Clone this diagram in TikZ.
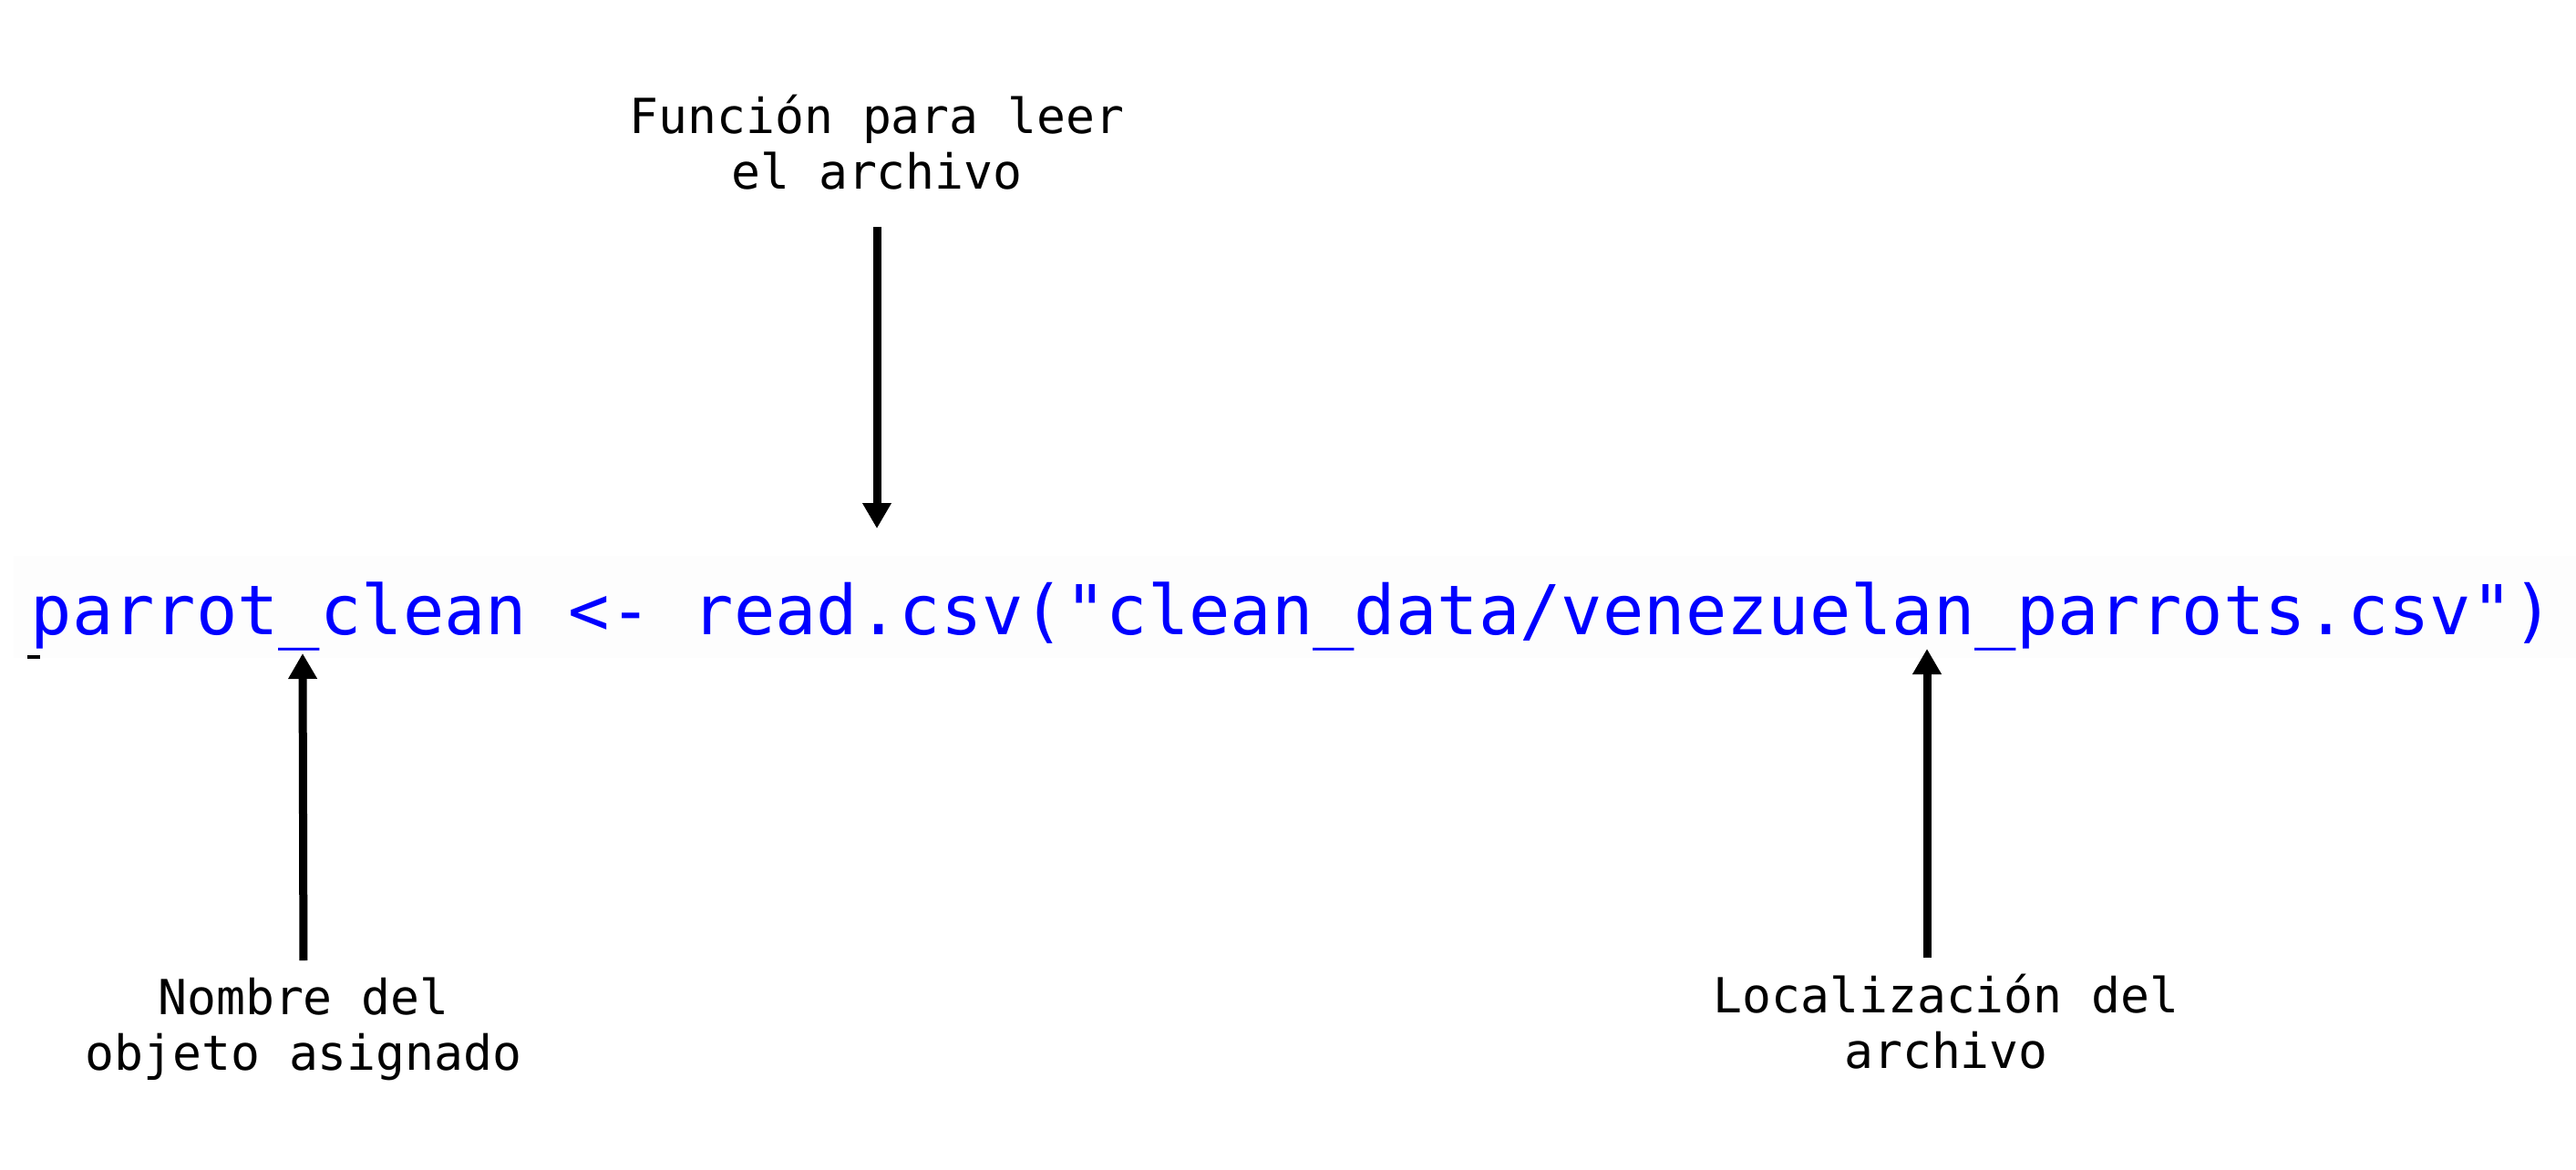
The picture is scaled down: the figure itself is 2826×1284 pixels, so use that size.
\documentclass[tikz,border=0pt]{standalone}
\usepackage{fontspec}
\setmonofont{DejaVu Sans Mono}
\usetikzlibrary{arrows.meta}
\definecolor{codeblue}{RGB}{0,0,255}
\definecolor{bandgray}{RGB}{253,253,253}

\tikzset{
  codetext/.style={inner sep=0, text=codeblue, font=\ttfamily\fontsize{21.45}{25}\selectfont},
  labeltext/.style={inner sep=0, align=center, font=\ttfamily\fontsize{15.1}{17.4}\selectfont},
  pointer/.style={-{Triangle[width=3mm, length=2.8mm]}, line width=0.9mm}
}

\begin{document}
\begin{tikzpicture}[x=0.1mm, y=-0.1mm]
  \useasboundingbox (0,0) rectangle (2826,1284);

  % Faint band behind the code line
  \fill[bandgray] (15,610) rectangle (2826,722);
  \fill[black] (30,719) rectangle (44,723);

  % Code line
  \node[codetext, anchor=base] (code) at (1418,697)
    {parrot\_clean <- read.csv("clean\_data/venezuelan\_parrots.csv")};

  % Labels
  \node[labeltext, anchor=south] (funcion) at (962,209)
    {Función para leer\\el archivo};
  \node[labeltext, anchor=north] (nombre) at (333,1072)
    {Nombre del\\objeto asignado};
  \node[labeltext, anchor=north] (localizacion) at (2135,1068)
    {Localización del\\archivo};

  % Arrow tips
  \coordinate (readTip) at (962,580);
  \coordinate (nameTip) at (332,717);
  \coordinate (pathTip) at (2114,712);

  % Pointers
  \draw[pointer, shorten <=4mm] (funcion.south) -- (readTip);
  \draw[pointer, shorten <=1.8mm] (nombre.north) -- (nameTip);
  \draw[pointer, shorten <=1.7mm] (localizacion.north -| pathTip) -- (pathTip);
\end{tikzpicture}
\end{document}
